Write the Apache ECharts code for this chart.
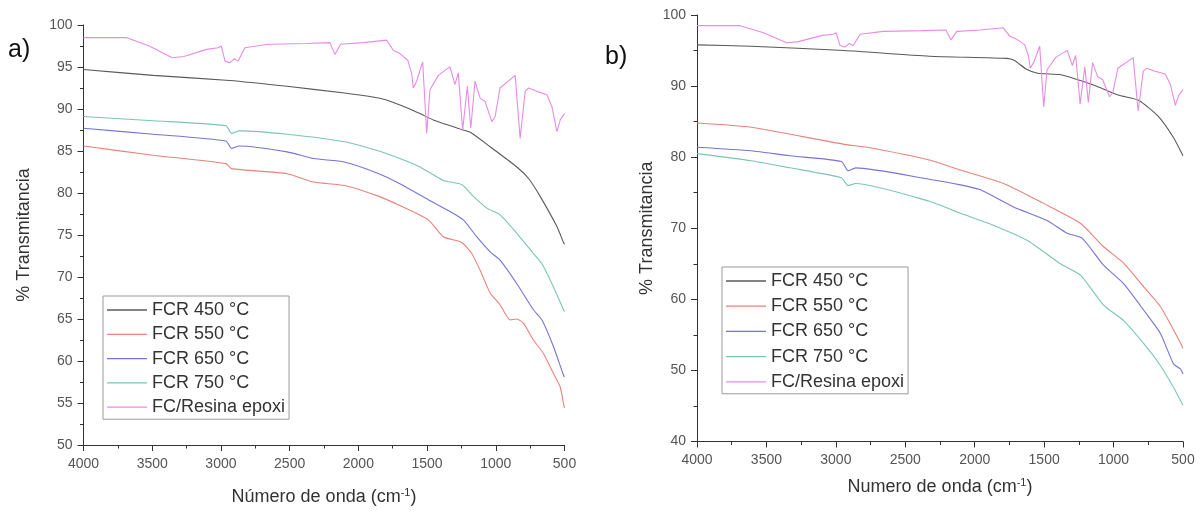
<!DOCTYPE html>
<html>
<head>
<meta charset="utf-8">
<script src="https://cdn.jsdelivr.net/npm/echarts@6/dist/echarts.min.js"></script>
<style>
html,body{margin:0;padding:0;background:#fff;}
#chart{width:1204px;height:515px;}
</style>
</head>
<body>
<div id="chart"></div>
<script>
// ---- Data (wavenumber cm-1, % transmittance) ----
const seriesNames = ['FCR 450 °C', 'FCR 550 °C', 'FCR 650 °C', 'FCR 750 °C', 'FC/Resina epoxi'];
const xTicks = [4000, 3500, 3000, 2500, 2000, 1500, 1000, 500];

// Panel a)
const a450 = [[4000,94.7],[3493,94.0],[2936,93.4],[2519,92.7],[2101,91.9],[1823,91.2],[1683,90.4],[1544,89.4],[1455,88.7],[1236,87.5],[1182,87.2],[1041,85.5],[847,83.1],[760,81.7],[677,79.6],[555,76.0],[507,74.1],[500,73.9]];
const a550 = [[4000,85.6],[3493,84.5],[2964,83.5],[2922,82.9],[2519,82.3],[2324,81.3],[2101,80.9],[1850,79.6],[1698,78.5],[1491,76.8],[1382,74.8],[1248,74.1],[1175,72.8],[1114,70.8],[1041,68.1],[969,66.7],[896,64.9],[847,65.0],[799,64.5],[726,62.5],[653,60.9],[580,58.5],[531,56.9],[507,54.9],[500,54.4]];
const a650 = [[4000,87.7],[3493,87.0],[2964,86.2],[2922,85.3],[2867,85.6],[2519,84.9],[2324,84.1],[2101,83.7],[1850,82.3],[1698,81.1],[1491,79.2],[1333,77.8],[1236,76.8],[1139,74.8],[1041,73.0],[969,72.0],[847,69.2],[726,66.1],[665,64.9],[580,61.7],[507,58.3],[500,58.1]];
const a750 = [[4000,89.1],[3493,88.6],[2964,88.0],[2922,87.1],[2867,87.4],[2519,87.0],[2101,86.1],[1850,85.0],[1698,84.1],[1552,83.1],[1382,81.5],[1248,81.0],[1163,79.6],[1065,78.2],[969,77.4],[847,75.2],[726,72.8],[665,71.6],[580,68.8],[507,66.1],[500,65.9]];

// Panel b)
const b450 = [[4000,95.8],[3610,95.6],[2940,95.0],[2327,94.2],[1769,93.9],[1713,93.6],[1630,92.4],[1546,91.8],[1379,91.6],[1211,90.6],[1100,89.8],[960,88.7],[821,88.0],[681,85.8],[570,82.8],[500,80.2]];
const b550 = [[4000,84.8],[3610,84.2],[2940,81.8],[2773,81.4],[2327,79.6],[2103,78.2],[1792,76.3],[1504,73.5],[1239,70.7],[1072,67.4],[928,65.1],[784,61.8],[663,59.0],[568,55.7],[530,54.3],[500,53.1]];
const b650 = [[4000,81.4],[3610,80.9],[3331,80.2],[2960,79.4],[2912,78.1],[2857,78.5],[2327,76.9],[2103,76.1],[1959,75.4],[1720,73.0],[1479,71.1],[1335,69.3],[1227,68.6],[1072,64.8],[928,62.2],[784,58.5],[663,55.2],[568,50.9],[519,50.2],[500,49.5]];
const b750 = [[4000,80.5],[3610,79.5],[3331,78.5],[2960,77.1],[2912,76.0],[2857,76.3],[2327,73.8],[2103,72.1],[1863,70.4],[1623,68.3],[1383,65.0],[1239,63.4],[1072,59.2],[928,57.0],[784,53.8],[663,50.7],[568,47.6],[500,45.1]];

// FC/epoxy resin spectrum (same sample in both panels)
const epoxi = [[4000,98.5],[3690,98.5],[3521,97.5],[3354,96.1],[3270,96.25],[3103,97.1],[3020,97.3],[2998,97.5],[2970,95.7],[2936,95.5],[2903,96.0],[2875,95.7],[2825,97.3],[2658,97.7],[2379,97.8],[2207,97.9],[2171,96.5],[2129,97.7],[1962,97.9],[1795,98.2],[1746,97.0],[1698,96.6],[1640,95.8],[1612,94.2],[1600,92.5],[1576,93.3],[1532,95.6],[1503,87.1],[1479,92.3],[1418,94.0],[1370,94.6],[1333,95.0],[1297,92.9],[1273,94.3],[1241,87.5],[1207,92.7],[1182,87.7],[1151,93.3],[1114,91.3],[1078,90.9],[1029,88.5],[1005,89.1],[969,92.5],[859,94.0],[823,86.5],[786,92.1],[762,92.5],[701,92.1],[628,91.7],[592,90.3],[555,87.3],[531,88.7],[507,89.3],[500,89.5]];

const yTicksA = [50, 55, 60, 65, 70, 75, 80, 85, 90, 95, 100];
const yTicksB = [40, 50, 60, 70, 80, 90, 100];

const colors = ['#5a5a5a', '#e7837a', '#7474d6', '#7cc4b4', '#e68ce6'];
const FONT = "'Liberation Sans', Arial, sans-serif";

function xAxisCfg(gridIndex, gap) {
  return {
    type: 'value', gridIndex: gridIndex, inverse: true,
    min: xTicks[xTicks.length - 1], max: xTicks[0], interval: 500,
    name: 'N' + (gridIndex === 0 ? 'ú' : 'u') + 'mero de onda (cm{sup|-1})',
    nameLocation: 'middle', nameGap: gap,
    nameTextStyle: { fontSize: 18, color: '#333', fontFamily: FONT, lineHeight: 20,
      rich: { sup: { fontSize: 11, color: '#333', fontFamily: FONT, verticalAlign: 'top', lineHeight: 11 } } },
    axisLine: { show: true, lineStyle: { color: '#333', width: 1 } },
    axisTick: { show: true, inside: false, length: 6, lineStyle: { color: '#333' } },
    minorTick: { show: true, splitNumber: 2, length: 3.5, lineStyle: { color: '#333' } },
    splitLine: { show: false }, minorSplitLine: { show: false },
    axisLabel: { fontSize: 14, color: '#555', fontFamily: FONT, margin: 12,
      formatter: function (v) { return String(v); } }
  };
}
function yAxisCfg(gridIndex, min, max, interval, gap) {
  return {
    type: 'value', gridIndex: gridIndex, min: min, max: max, interval: interval,
    name: '% Transmitancia', nameLocation: 'middle', nameRotate: 90, nameGap: gap,
    nameTextStyle: { fontSize: 18, color: '#333', fontFamily: FONT },
    axisLine: { show: true, lineStyle: { color: '#333', width: 1 } },
    axisTick: { show: true, inside: false, length: 6, lineStyle: { color: '#333' } },
    minorTick: { show: true, splitNumber: 2, length: 3.5, lineStyle: { color: '#333' } },
    splitLine: { show: false }, minorSplitLine: { show: false },
    axisLabel: { fontSize: 14, color: '#555', fontFamily: FONT, margin: 11,
      formatter: function (v) { return String(v); } }
  };
}
function lineSeries(name, data, idx, color, smooth) {
  return {
    name: name, type: 'line', data: data, xAxisIndex: idx, yAxisIndex: idx,
    symbol: 'none', smooth: smooth, color: color,
    lineStyle: { color: color, width: 1.1 }, z: 2
  };
}
function legendCfg(left, top, gap) {
  return {
    orient: 'vertical', left: left, top: top,
    data: seriesNames.map(function (n, i) { return { name: n, itemStyle: { color: colors[i] } }; }),
    icon: 'rect', itemWidth: 40, itemHeight: 1.3, itemGap: gap, padding: [5, 4, 3, 4],
    borderColor: '#9a9a9a', borderWidth: 1, backgroundColor: '#fff',
    textStyle: { fontSize: 18, color: '#333', fontFamily: FONT, lineHeight: 18 },
    selectedMode: false
  };
}

const chart = echarts.init(document.getElementById('chart'), null, { renderer: 'canvas' });
chart.setOption({
  animation: false,
  backgroundColor: '#fff',
  grid: [
    { left: 83.5, top: 25, width: 481, height: 420 },
    { left: 697, top: 15, width: 486, height: 426.5 }
  ],
  xAxis: [xAxisCfg(0, 42), xAxisCfg(1, 36)],
  yAxis: [
    yAxisCfg(0, yTicksA[0], yTicksA[yTicksA.length - 1], 5, 50),
    yAxisCfg(1, yTicksB[0], yTicksB[yTicksB.length - 1], 10, 41)
  ],
  legend: [legendCfg(103, 296, 6.3), legendCfg(722, 267, 7.2)],
  graphic: [
    { type: 'text', left: 8, top: 38, style: { text: 'a)', fontSize: 25, fill: '#111', fontFamily: FONT } },
    { type: 'text', left: 605, top: 45, style: { text: 'b)', fontSize: 25, fill: '#111', fontFamily: FONT } }
  ],
  series: [
    lineSeries(seriesNames[0], a450, 0, colors[0], 0.2),
    lineSeries(seriesNames[1], a550, 0, colors[1], 0.2),
    lineSeries(seriesNames[2], a650, 0, colors[2], 0.2),
    lineSeries(seriesNames[3], a750, 0, colors[3], 0.2),
    lineSeries(seriesNames[4], epoxi, 0, colors[4], false),
    lineSeries(seriesNames[0], b450, 1, colors[0], 0.2),
    lineSeries(seriesNames[1], b550, 1, colors[1], 0.2),
    lineSeries(seriesNames[2], b650, 1, colors[2], 0.2),
    lineSeries(seriesNames[3], b750, 1, colors[3], 0.2),
    lineSeries(seriesNames[4], epoxi, 1, colors[4], false)
  ]
});
</script>
</body>
</html>
